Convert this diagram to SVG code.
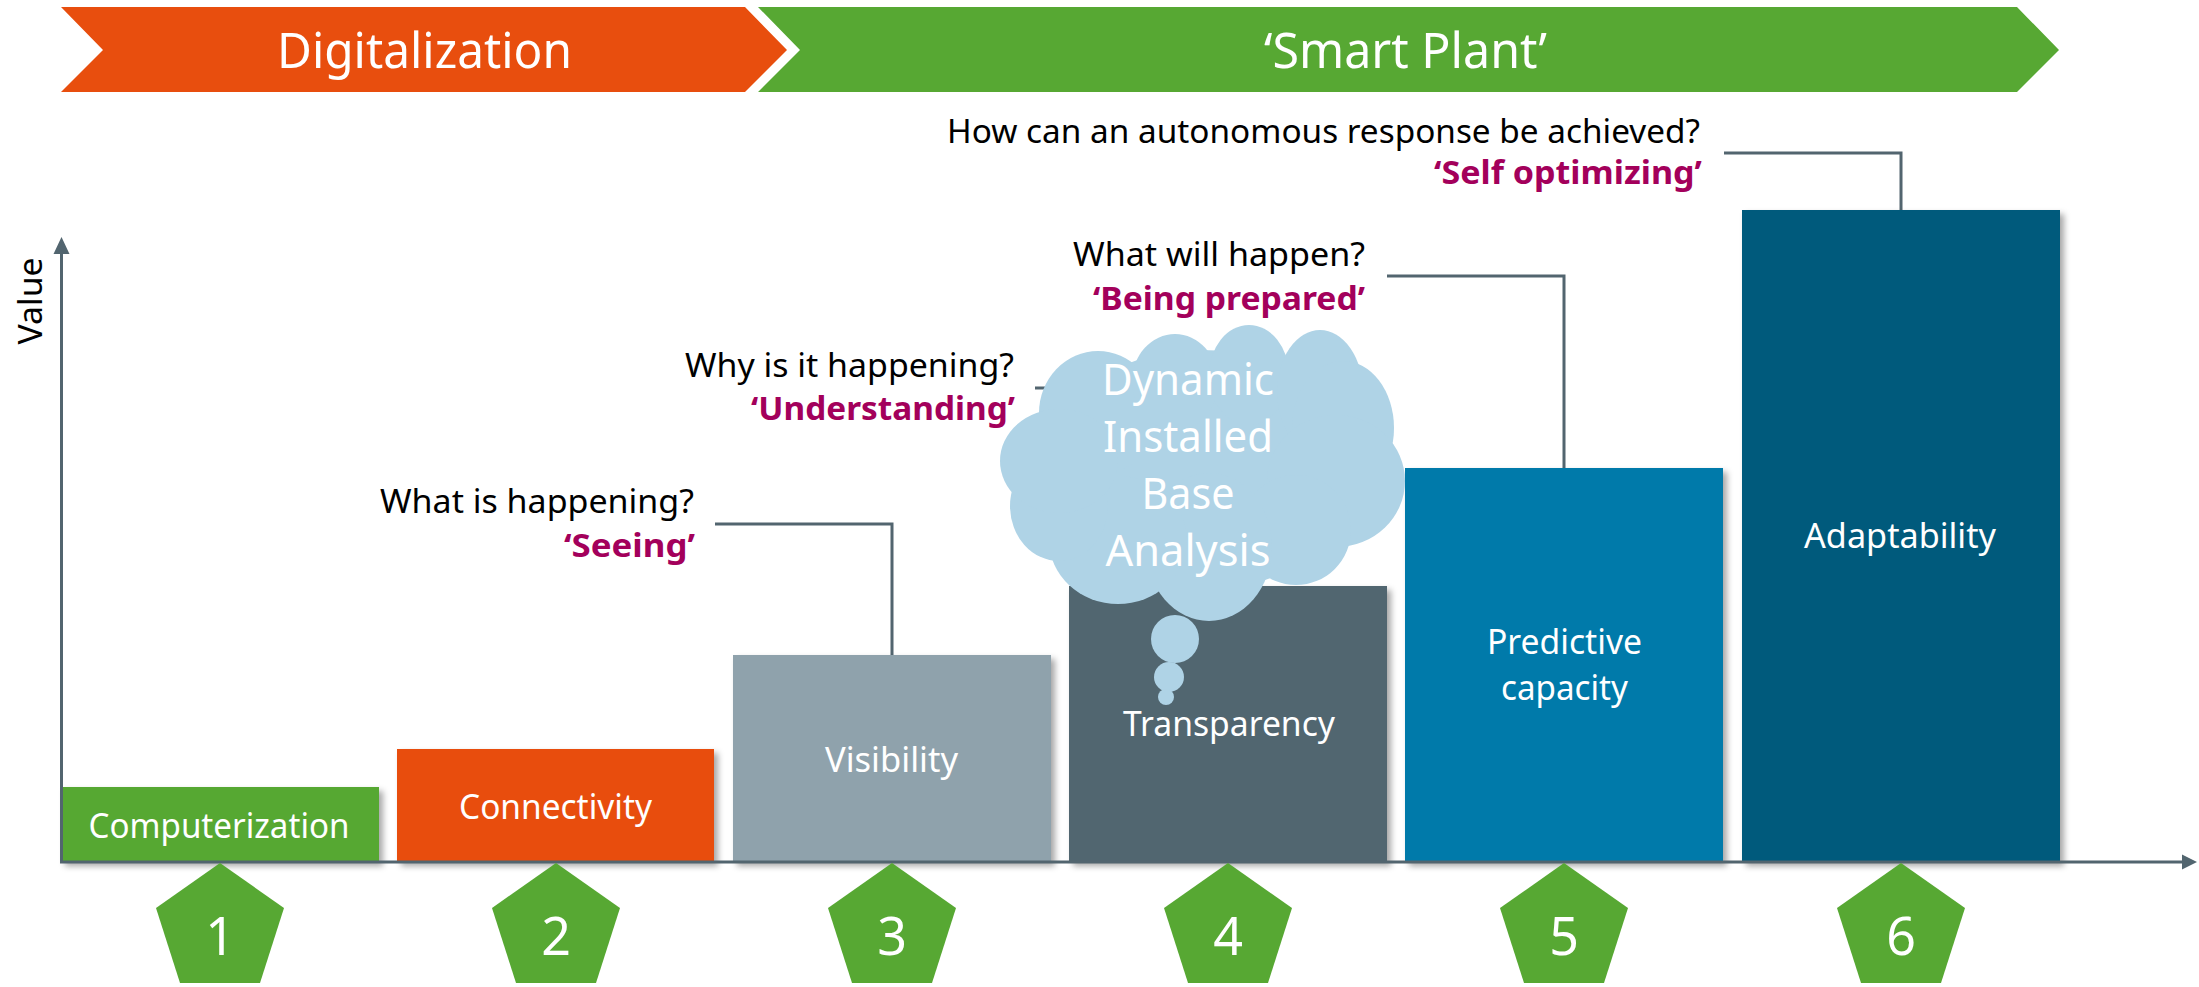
<svg xmlns="http://www.w3.org/2000/svg" width="2199" height="987" viewBox="0 0 2199 987">
<defs>
<filter id="sh" x="-10%" y="-10%" width="125%" height="125%">
<feDropShadow dx="4" dy="4" stdDeviation="3" flood-color="#000" flood-opacity="0.35"/>
</filter>
<style>
text{font-family:"Noto Sans","Open Sans","Liberation Sans",sans-serif}
.ban{fill:#fff;font-size:50px;text-anchor:middle}
.bl{fill:#fff;font-size:35px;text-anchor:middle}
.q{fill:#000;font-size:33px;text-anchor:end}
.a{fill:#a3005b;font-size:33px;font-weight:bold;text-anchor:end}
.num{fill:#fff;font-size:52px;text-anchor:middle}
.cl{fill:#fff;font-size:44px;text-anchor:middle}
.pent{fill:#57a833}
.conn{fill:none;stroke:#52656f;stroke-width:3}
.cloud{fill:#afd3e6}
</style>
</defs>
<rect width="2199" height="987" fill="#fff"/>

<g id="banner-digitalization">
<polygon points="61,7 745,7 787,50 745,92 61,92 103,50" fill="#e84e0e"/>
<text class="ban" x="424.5" y="68" textLength="295" lengthAdjust="spacingAndGlyphs">Digitalization</text>
</g>
<g id="banner-smart-plant">
<polygon points="758,7 2017,7 2059,50 2017,92 758,92 800,50" fill="#57a833"/>
<text class="ban" x="1405.5" y="68" textLength="283" lengthAdjust="spacingAndGlyphs">‘Smart Plant’</text>
</g>

<g id="connectors">
<polyline class="conn" points="1035,388 1228,388 1228,586"/>
<polyline class="conn" points="715,524 892,524 892,655"/>
<polyline class="conn" points="1387,276 1564,276 1564,468"/>
<polyline class="conn" points="1724,153 1901,153 1901,210"/>
</g>

<g id="bar1">
<rect x="61" y="787" width="318" height="75" fill="#57a833" filter="url(#sh)"/>
<text class="bl" x="219" y="838" textLength="261" lengthAdjust="spacingAndGlyphs">Computerization</text>
</g>
<g id="bar2">
<rect x="397" y="749" width="317" height="113" fill="#e84e0e" filter="url(#sh)"/>
<text class="bl" x="555.5" y="819" textLength="193" lengthAdjust="spacingAndGlyphs">Connectivity</text>
</g>
<g id="bar3">
<rect x="733" y="655" width="318" height="207" fill="#8fa2ac" filter="url(#sh)"/>
<text class="bl" x="891.5" y="772" textLength="133" lengthAdjust="spacingAndGlyphs">Visibility</text>
</g>
<g id="bar4">
<rect x="1069" y="586" width="318" height="276" fill="#51666f" filter="url(#sh)"/>
<text class="bl" x="1229" y="736" textLength="212" lengthAdjust="spacingAndGlyphs">Transparency</text>
</g>
<g id="bar5">
<rect x="1405" y="468" width="318" height="394" fill="#007aaa" filter="url(#sh)"/>
<text class="bl" x="1564.5" y="654" textLength="155" lengthAdjust="spacingAndGlyphs">Predictive</text>
<text class="bl" x="1564.5" y="700" textLength="127" lengthAdjust="spacingAndGlyphs">capacity</text>
</g>
<g id="bar6">
<rect x="1742" y="210" width="318" height="652" fill="#005a7c" filter="url(#sh)"/>
<text class="bl" x="1900" y="548" textLength="192" lengthAdjust="spacingAndGlyphs">Adaptability</text>
</g>

<g id="cloud">
<g class="cloud">
<ellipse cx="1201" cy="470" rx="160" ry="120"/>
<ellipse cx="1098" cy="413" rx="59" ry="62"/>
<ellipse cx="1175" cy="382" rx="43" ry="48"/>
<ellipse cx="1249" cy="375" rx="40" ry="50"/>
<ellipse cx="1320" cy="392" rx="43" ry="62"/>
<ellipse cx="1343" cy="428" rx="51" ry="67"/>
<ellipse cx="1336" cy="481" rx="69" ry="66"/>
<ellipse cx="1296" cy="530" rx="55" ry="55"/>
<ellipse cx="1209" cy="547" rx="63" ry="74"/>
<ellipse cx="1118" cy="540" rx="69" ry="64"/>
<ellipse cx="1059" cy="506" rx="49" ry="55"/>
<ellipse cx="1059" cy="461" rx="59" ry="52"/>
<circle cx="1175" cy="639" r="24"/>
<circle cx="1169" cy="677" r="15"/>
<circle cx="1166" cy="697" r="8"/>
</g>
<text class="cl" x="1188" y="395" textLength="172" lengthAdjust="spacingAndGlyphs">Dynamic</text>
<text class="cl" x="1188" y="452" textLength="170" lengthAdjust="spacingAndGlyphs">Installed</text>
<text class="cl" x="1188" y="509" textLength="93" lengthAdjust="spacingAndGlyphs">Base</text>
<text class="cl" x="1188" y="566" textLength="165" lengthAdjust="spacingAndGlyphs">Analysis</text>
</g>

<g id="axes">
<line x1="61.5" y1="862" x2="61.5" y2="252" stroke="#52656f" stroke-width="3"/>
<polygon points="61.5,237 53.5,254 69.5,254" fill="#52656f"/>
<line x1="60" y1="862" x2="2184" y2="862" stroke="#52656f" stroke-width="3"/>
<polygon points="2197,862 2182,854.5 2182,869.5" fill="#52656f"/>
<text x="42" y="301" transform="rotate(-90 42 301)" font-size="32" fill="#000" text-anchor="middle" textLength="87" lengthAdjust="spacingAndGlyphs">Value</text>
</g>

<g id="q3">
<text class="q" x="694" y="513" textLength="314" lengthAdjust="spacingAndGlyphs">What is happening?</text>
<text class="a" x="695" y="557" textLength="131" lengthAdjust="spacingAndGlyphs">‘Seeing’</text>
</g>
<g id="q4">
<text class="q" x="1014" y="377" textLength="329" lengthAdjust="spacingAndGlyphs">Why is it happening?</text>
<text class="a" x="1015" y="420" textLength="264" lengthAdjust="spacingAndGlyphs">‘Understanding’</text>
</g>
<g id="q5">
<text class="q" x="1365" y="266" textLength="292" lengthAdjust="spacingAndGlyphs">What will happen?</text>
<text class="a" x="1365" y="310" textLength="272" lengthAdjust="spacingAndGlyphs">‘Being prepared’</text>
</g>
<g id="q6">
<text class="q" x="1700" y="143" textLength="753" lengthAdjust="spacingAndGlyphs">How can an autonomous response be achieved?</text>
<text class="a" x="1702" y="184" textLength="268" lengthAdjust="spacingAndGlyphs">‘Self optimizing’</text>
</g>

<g id="step1"><polygon class="pent" points="220,863 284,908 260,983 180,983 156,908"/><text class="num" x="220" y="955">1</text></g>
<g id="step2"><polygon class="pent" points="556,863 620,908 596,983 516,983 492,908"/><text class="num" x="556" y="955">2</text></g>
<g id="step3"><polygon class="pent" points="892,863 956,908 932,983 852,983 828,908"/><text class="num" x="892" y="955">3</text></g>
<g id="step4"><polygon class="pent" points="1228,863 1292,908 1268,983 1188,983 1164,908"/><text class="num" x="1228" y="955">4</text></g>
<g id="step5"><polygon class="pent" points="1564,863 1628,908 1604,983 1524,983 1500,908"/><text class="num" x="1564" y="955">5</text></g>
<g id="step6"><polygon class="pent" points="1901,863 1965,908 1941,983 1861,983 1837,908"/><text class="num" x="1901" y="955">6</text></g>
</svg>
